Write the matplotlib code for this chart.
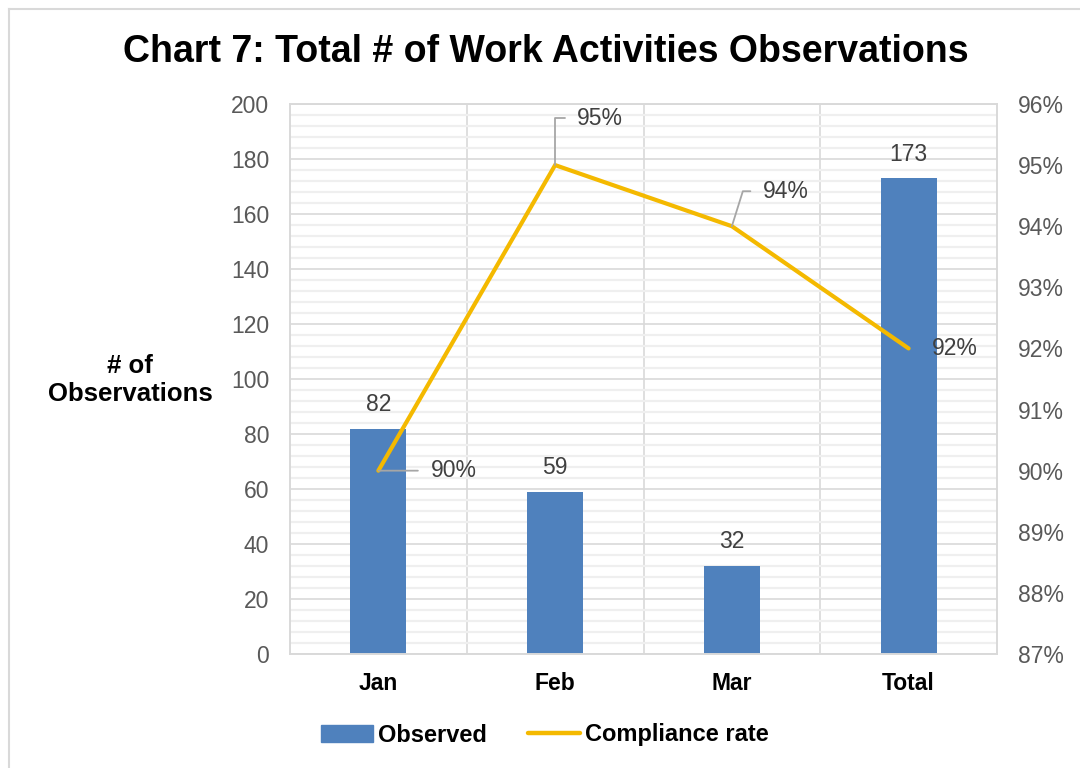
import matplotlib
matplotlib.use("Agg")
import matplotlib.pyplot as plt
from matplotlib.lines import Line2D
import numpy as np

plt.rcParams['font.family'] = ['Liberation Sans', 'DejaVu Sans']

categories = ["Jan", "Feb", "Mar", "Total"]
observed = [82, 59, 32, 173]
compliance = [90, 95, 94, 92]  # percent
left_ticks = list(range(0, 201, 20))
right_ticks = list(range(87, 97))

BAR = '#4F81BD'
LINE = '#F4B900'
GRID_MAJ = '#D9D9D9'
GRID_MIN = '#EFEFEF'
TXT = '#595959'

W, H = 1080, 768
fig = plt.figure(figsize=(W / 100, H / 100), dpi=100)

# figure border
fig.add_artist(Line2D([9 / W, 9 / W], [0, 1 - 9 / H], transform=fig.transFigure, color='#D9D9D9', lw=1.5))
fig.add_artist(Line2D([9 / W, 1], [1 - 9 / H, 1 - 9 / H], transform=fig.transFigure, color='#D9D9D9', lw=1.5))

ax = fig.add_axes([290 / W, (H - 654) / H, 707 / W, 550 / H])
x = np.arange(len(categories))
ax.set_xlim(-0.5, len(categories) - 0.5)
ax.set_ylim(0, 200)

# grid
ax.set_yticks(left_ticks)
ax.set_yticks(np.arange(0, 201, 4), minor=True)
ax.grid(axis='y', which='minor', color=GRID_MIN, lw=1.6, zorder=0)
ax.grid(axis='y', which='major', color=GRID_MAJ, lw=1.2, zorder=0)
for b in x[:-1] + 0.5:
    ax.axvline(b, color=GRID_MAJ, lw=1.2, zorder=0)
ax.set_axisbelow(True)

bars = ax.bar(x, observed, width=0.316, color=BAR, zorder=2)
for xi, v in zip(x, observed):
    ax.annotate(str(v), (xi, v), xytext=(0, 24), textcoords='offset pixels',
                ha='center', va='center', fontsize=16.5, color='#404040', zorder=5)

ax.set_xticks(x)
ax.set_xticklabels(categories, fontsize=16.5, fontweight='bold', color='black')
ax.tick_params(axis='x', length=0, pad=13)
ax.tick_params(axis='y', which='both', length=0, pad=15, labelsize=16.5, labelcolor=TXT)
for s in ax.spines.values():
    s.set_color(GRID_MAJ)
    s.set_linewidth(1.2)

ax2 = ax.twinx()
ax2.set_ylim(87, 96)
ax2.set_yticks(right_ticks)
ax2.set_yticklabels([f"{t}%" for t in right_ticks])
ax2.tick_params(axis='y', length=0, pad=15, labelsize=16.5, labelcolor=TXT)
for s in ax2.spines.values():
    s.set_color(GRID_MAJ)
    s.set_linewidth(1.2)

ax2.plot(x, compliance, color=LINE, lw=3.0, solid_capstyle='round', solid_joinstyle='miter', zorder=4)

# data labels for compliance
lbl_cfg = [
    dict(off=(52, 0), conn='arc3,rad=0', arrow=True),
    dict(off=(22, 47), conn='angle,angleA=0,angleB=90,rad=0', arrow=True),
    dict(off=(31, 35), conn='angle,angleA=0,angleB=72.6,rad=0', arrow=True),
    dict(off=(23, 0), conn=None, arrow=False),
]
for xi, v, cfg in zip(x, compliance, lbl_cfg):
    kw = {}
    if cfg['arrow']:
        kw['arrowprops'] = dict(arrowstyle='-', color='#A6A6A6', lw=1.3,
                                connectionstyle=cfg['conn'], relpos=(0, 0.5),
                                shrinkA=7, shrinkB=0)
    ax2.annotate(f"{v}%", (xi, v), xytext=cfg['off'], textcoords='offset pixels',
                 ha='left', va='center', fontsize=16.5, color='#404040', zorder=6, **kw)

fig.text(546 / W, 1 - 52 / H, "Chart 7: Total # of Work Activities Observations",
         ha='center', va='center', fontsize=27, fontweight='bold')
fig.text(130 / W, 1 - 380 / H, "# of\nObservations", ha='center', va='center',
         fontsize=18.5, fontweight='bold', linespacing=1.2)

handles = [plt.Rectangle((0, 0), 1, 1, color=BAR),
           Line2D([0], [0], color=LINE, lw=3.2, solid_capstyle='round')]
fig.legend(handles, ["Observed", "Compliance rate"], loc='center',
           bbox_to_anchor=(545 / W, 33 / H), ncol=2, frameon=False,
           prop=dict(size=17, weight='bold'), handlelength=2.2,
           handletextpad=0.2, columnspacing=1.75)

fig.savefig("out.png", dpi=100)
